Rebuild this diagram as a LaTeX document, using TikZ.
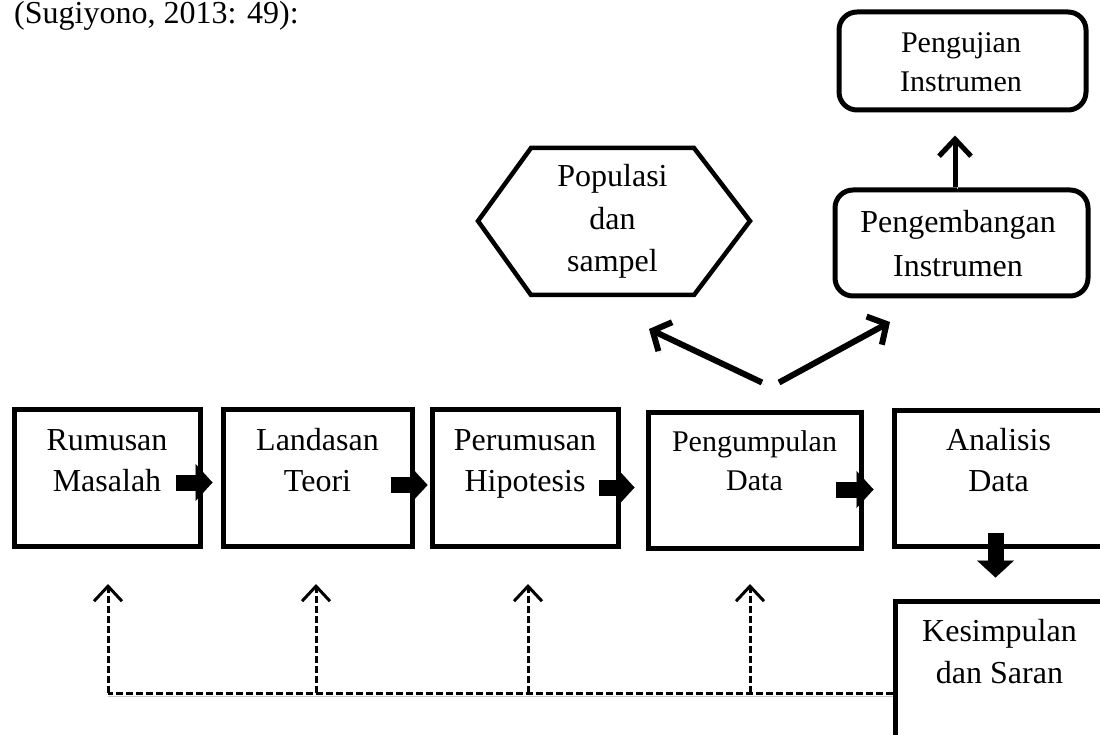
\documentclass[tikz,border=0pt]{standalone}
\usepackage{fontspec}
\setmainfont{Liberation Serif}
\usetikzlibrary{arrows.meta,calc}
\newcommand{\txl}[3]{\fontsize{#1}{#2}\selectfont\begin{tabular}[t]{@{}c@{}}#3\end{tabular}}
\begin{document}
\begin{tikzpicture}[x=1pt,y=-1pt,
  box/.style={draw, line width=5pt, rectangle, inner sep=0pt},
  rbox/.style={box, rounded corners=18pt},
  txt/.style={inner sep=0pt, anchor=base},
  blk/.style={line width=16pt, -{Triangle[length=17pt,width=37pt,line width=0.1pt]}},
  shd/.style={preaction={draw=gray!55, transform canvas={xshift=2pt,yshift=-2pt}}},
  shdh/.style={preaction={draw=gray!45, transform canvas={yshift=-3.5pt}}},
  opn/.style={line width=6pt, -{Straight Barb[length=14pt,width=32pt]}},
  opnv/.style={line width=5pt, -{Straight Barb[length=17pt,width=32pt]}},
  fb/.style={line width=3pt, dash pattern=on 7pt off 3pt},
  fba/.style={fb, -{Straight Barb[length=15pt,width=28pt]}},
]
\useasboundingbox (0,0) rectangle (1100,735);
\fill[white] (0,0) rectangle (1100,735);
\clip (0,0) rectangle (1100,735);

\node[txt, anchor=base west] (title) at (14,24) {\fontsize{32}{36}\selectfont (Sugiyono, 2013: 49):};

% main row
\node[box, minimum width=186pt, minimum height=137pt] (b1) at (107,477.5) {};
\node[box, minimum width=189pt, minimum height=137pt] (b2) at (317.5,477.5) {};
\node[box, minimum width=186pt, minimum height=137pt] (b3) at (525,477.5) {};
\node[box, minimum width=213pt, minimum height=136pt] (b4) at (754.5,480) {};
\node[box, minimum width=210pt, minimum height=136pt] (b5) at (999,478) {};
\node[box, minimum width=210pt, minimum height=220pt] (b6) at (1000,711) {};

\node[txt] (t1) at (107,450) {\txl{32}{41}{Rumusan\\Masalah}};
\node[txt] (t2) at (317.5,450) {\txl{32}{41}{Landasan\\Teori}};
\node[txt] (t3) at (525,450) {\txl{32}{41}{Perumusan\\Hipotesis}};
\node[txt] (t4) at (754.5,451) {\txl{30}{39}{Pengumpulan\\Data}};
\node[txt] (t5) at (998.5,450) {\txl{32}{41}{Analisis\\Data}};
\node[txt] (t6) at (999.5,641) {\txl{32}{42}{Kesimpulan\\dan Saran}};

% hexagon
\draw[line width=4.5pt] (478,221) -- (531,148) -- (694,148) -- (750,221) -- (694,295) -- (531,295) -- cycle;
\node[txt] (hx) at (612.5,187) {\txl{32}{42.5}{Populasi\\dan\\sampel}};

% rounded boxes
\node[rbox, minimum width=247pt, minimum height=98pt] (r1) at (962.5,61) {};
\node[txt] (tr1) at (961,53) {\txl{30}{38.5}{Pengujian\\Instrumen}};
\node[rbox, minimum width=253pt, minimum height=106pt] (r2) at (961.5,243) {};
\node[txt] (tr2) at (958,233) {\txl{32}{43.5}{Pengembangan\\Instrumen}};

% block arrows
\draw[blk] ($(b1.east)+(-27,5)$) -- ($(b2.west)+(-8,5)$);
\draw[blk] ($(b2.east)+(-24,7.5)$) -- ($(b3.west)+(-2,7.5)$);
\draw[blk] ($(b3.east)+(-22,10)$) -- ($(b4.west)+(-11,7.5)$);
\draw[blk] ($(b4.east)+(-28,9.5)$) -- ($(b5.west)+(-18,11.5)$);
\draw[blk] ($(b5.south)+(-3.5,-16)$) -- ($(b6.north)+(-4.5,-21)$);

% diagonal arrows
\coordinate (dl) at (649,329);
\coordinate (dr) at (890,322);
\draw[opn, shd] ($(b4.north)+(7.5,-27)$) -- (dl);
\draw[opn, shd] ($(b4.north)+(24.5,-27)$) -- (dr);

% up arrow
\draw[opnv, shd] ($(r2.north)+(-6.5,0)$) -- ($(r1.south)+(-7.5,23)$);

% feedback
\coordinate (h1) at (108,693);
\coordinate (h2) at (316,693);
\coordinate (h3) at (528,693);
\coordinate (h4) at (750,693);
\draw[fb, shdh] (b6.west |- h1) -- (h1);
\draw[fba] (h1) -- (108,584);
\draw[fba] (h2) -- (316,584);
\draw[fba] (h3) -- (528,584);
\draw[fba] (h4) -- (750,584);
\end{tikzpicture}
\end{document}
